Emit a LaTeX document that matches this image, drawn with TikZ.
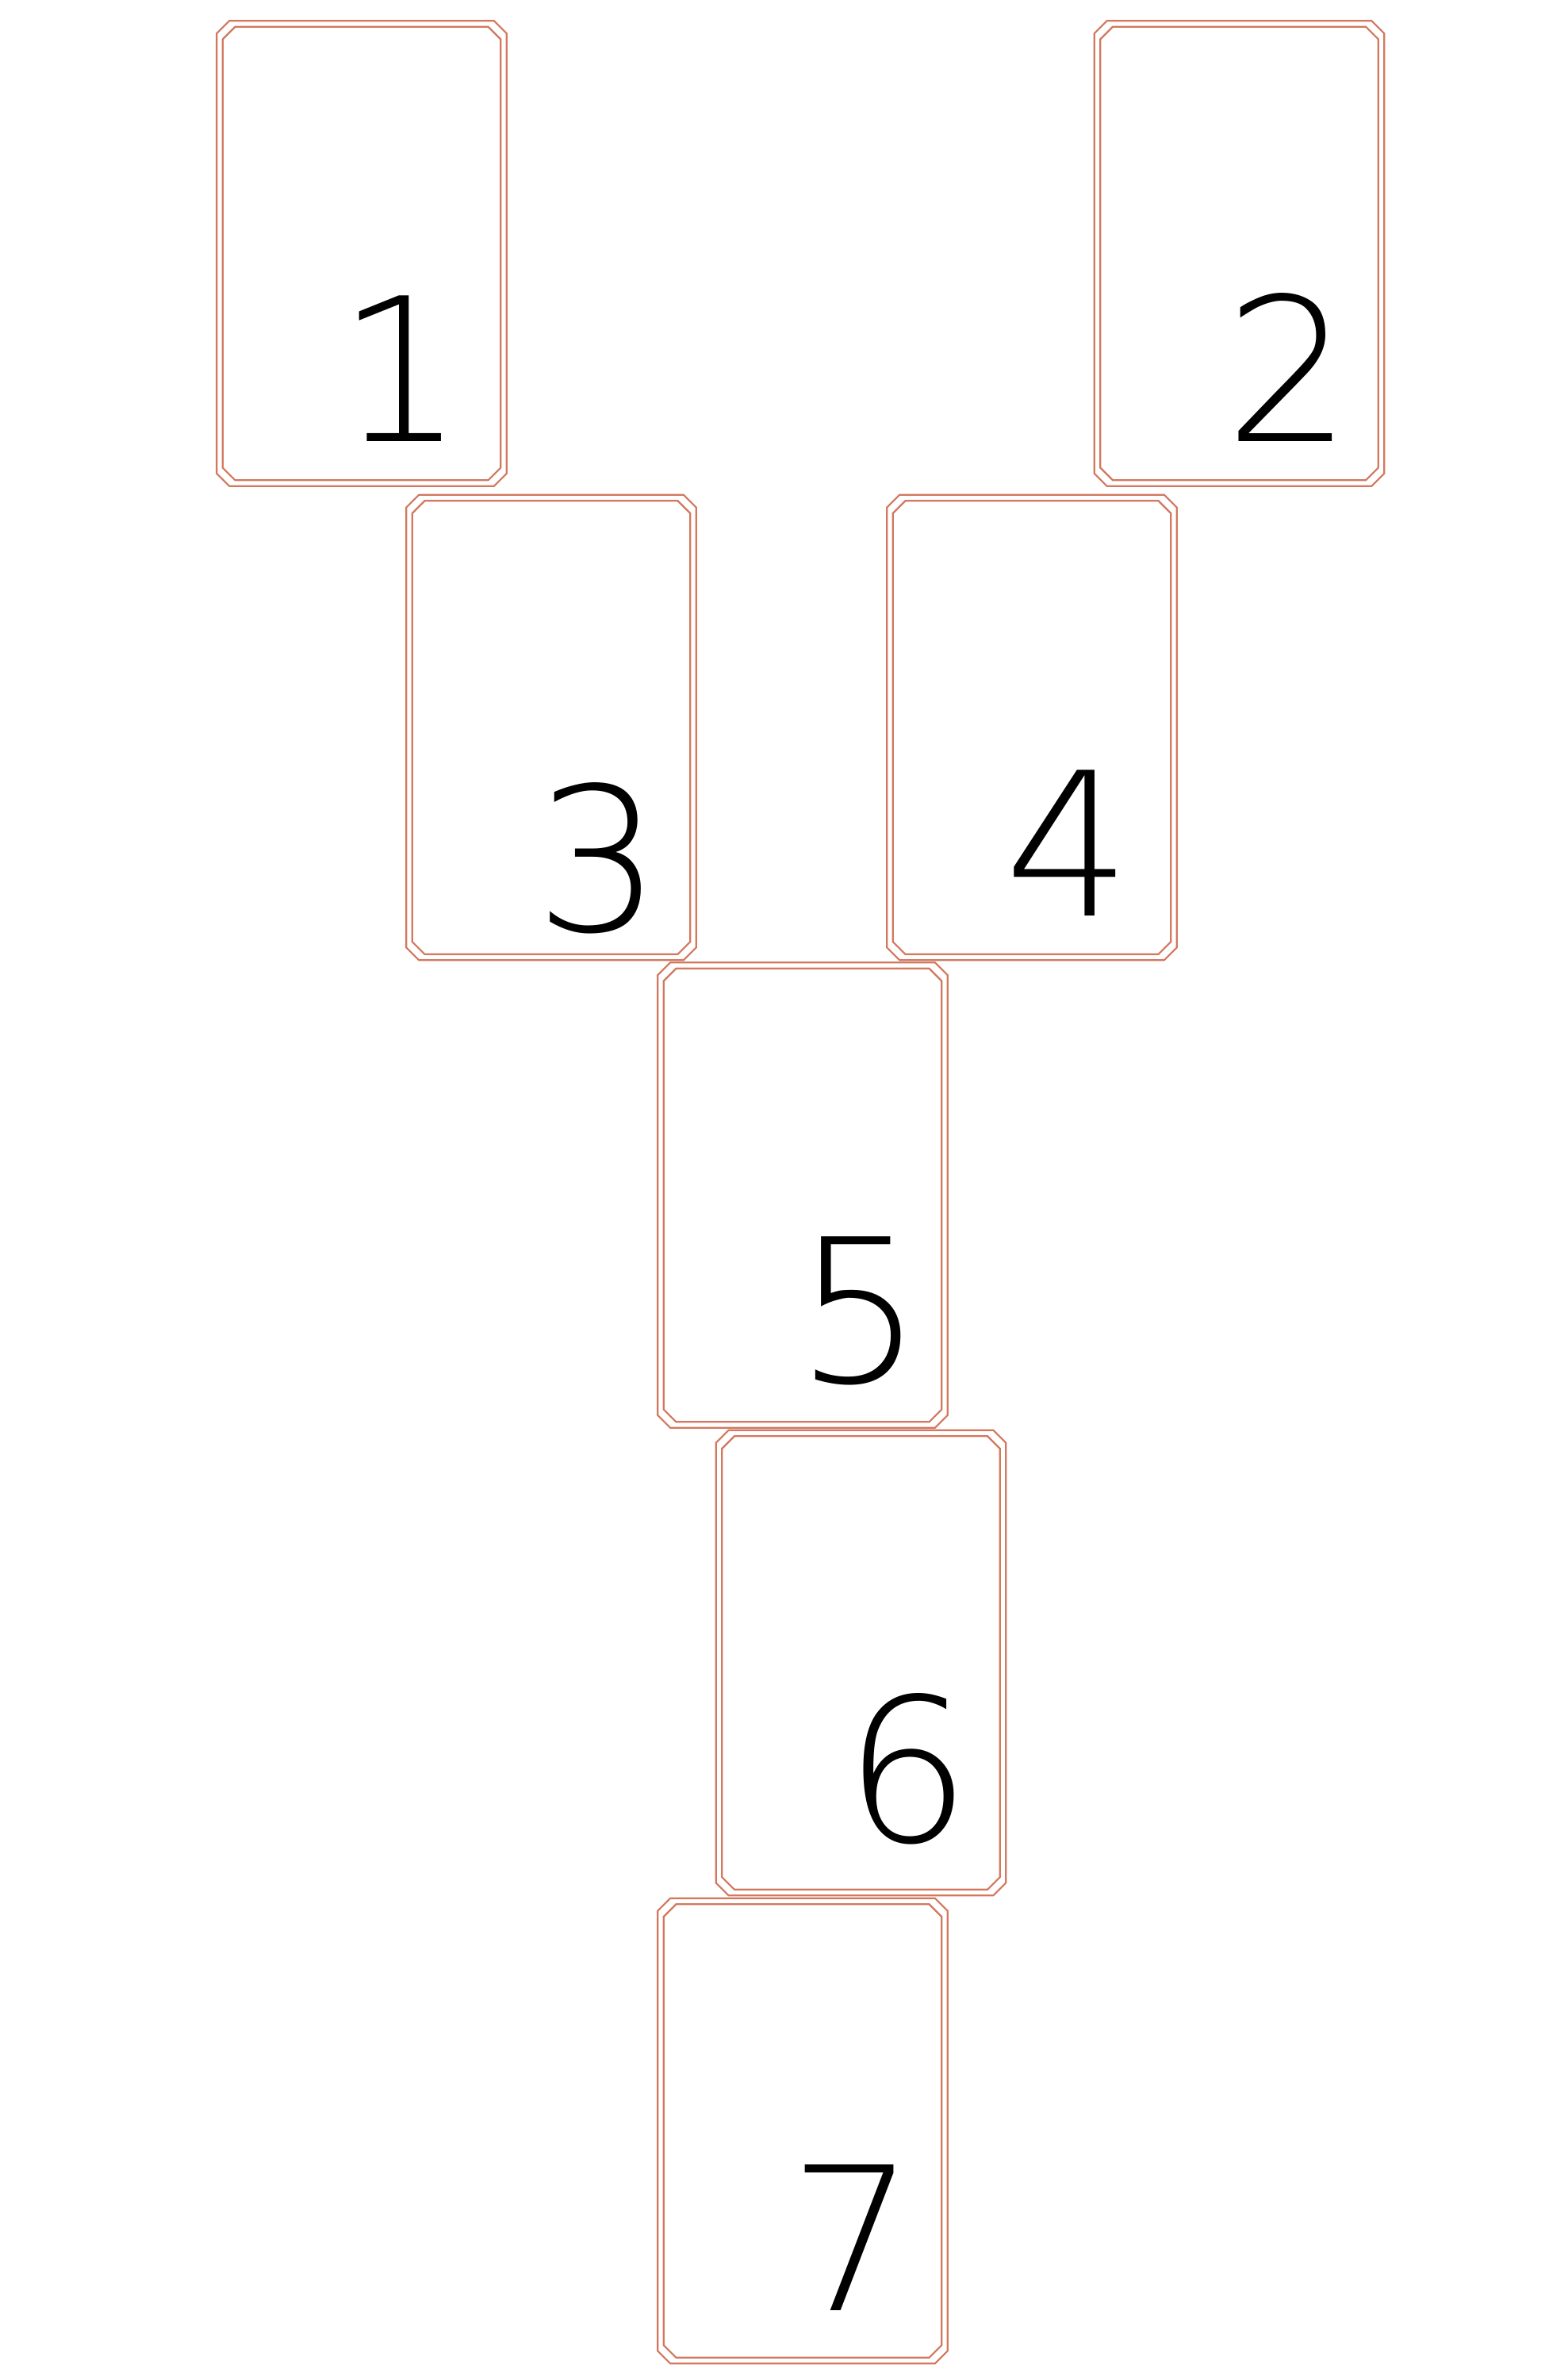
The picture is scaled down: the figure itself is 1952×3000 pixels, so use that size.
\documentclass[tikz,border=0pt]{standalone}
\usepackage{fontspec}
\IfFontExistsTF{DejaVu Sans ExtraLight}{\newfontfamily\digfont{DejaVu Sans ExtraLight}}{\newfontfamily\digfont{DejaVu Sans}}
\definecolor{cardline}{RGB}{210,120,95}
\tikzset{
  card/.style={rectangle, draw=none, minimum width=92pt, minimum height=147.25pt, inner sep=0pt, outer sep=0pt},
  cardedge/.style={draw=cardline, line width=0.55pt, line join=miter},
  digit/.style={font=\digfont\fontsize{63}{63}\selectfont, inner sep=0pt, text=black}
}
% #1 node name, #2 inset, #3 chamfer
\newcommand\cardoutline[3]{%
  \draw[cardedge] ([xshift=#2+#3, yshift=-#2]#1.north west) -- ([xshift=-#2-#3, yshift=-#2]#1.north east)
    -- ([xshift=-#2, yshift=-#2-#3]#1.north east) -- ([xshift=-#2, yshift=#2+#3]#1.south east)
    -- ([xshift=-#2-#3, yshift=#2]#1.south east) -- ([xshift=#2+#3, yshift=#2]#1.south west)
    -- ([xshift=#2, yshift=#2+#3]#1.south west) -- ([xshift=#2, yshift=-#2-#3]#1.north west) -- cycle;}
\newcommand\cardframe[1]{\cardoutline{#1}{0.3pt}{4pt}\cardoutline{#1}{2.2pt}{3.9pt}}
\begin{document}
\begin{tikzpicture}[x=0.25pt, y=-0.25pt]
\useasboundingbox[fill=white] (0,0) rectangle (1952,3000);
\node[card] (c1) at (456,319.5) {};
\node[card] (c2) at (1562.5,319.5) {};
\node[card] (c3) at (695,917) {};
\node[card] (c4) at (1301,917) {};
\node[card] (c5) at (1012,1506.5) {};
\node[card] (c6) at (1085.5,2096) {};
\node[card] (c7) at (1012,2686) {};
\foreach \n in {c1,c2,c3,c4,c5,c6,c7} {\cardframe{\n}}
\node[digit] (d1) at (506,465) {1};
\node[digit] (d2) at (1625,463) {2};
\node[digit] (d3) at (755,1082) {3};
\node[digit] (d4) at (1347,1063) {4};
\node[digit] (d5) at (1084,1652) {5};
\node[digit] (d6) at (1145,2230) {6};
\node[digit] (d7) at (1075,2821) {7};
\end{tikzpicture}
\end{document}
